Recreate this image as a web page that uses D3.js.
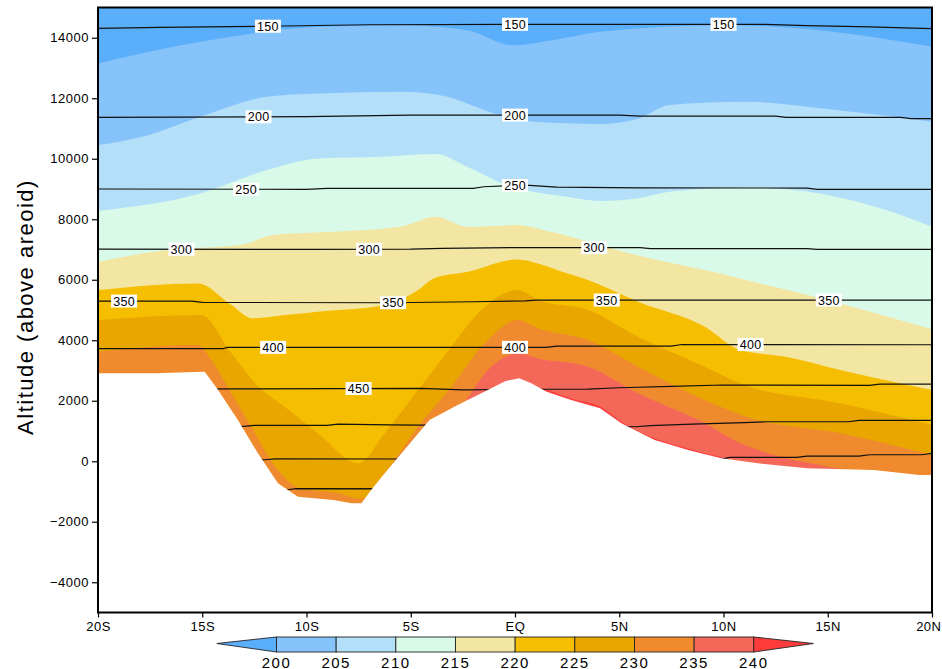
<!DOCTYPE html>
<html>
<head>
<meta charset="utf-8">
<script src="https://cdn.jsdelivr.net/npm/d3@7"></script>
<style>
body { margin: 0; background: #fff; }
svg text { font-family: "Liberation Sans", Arial, sans-serif; }
</style>
</head>
<body>
<div id="chart"></div>
<script>
// temperature classes (K) and their fill colours (below 200 ... above 240)
var tempLevels = [200, 205, 210, 215, 220, 225, 230, 235, 240];
var bandColors = ["#5aaefa", "#87c3fb", "#b4dff9", "#d9fae9", "#f3e6a3",
                  "#f6be00", "#e9a601", "#ef8a2f", "#f4685a", "#ff3c3c"];

// isotherm altitude (m) against latitude
var iso200 = [[-20,13150],[-15.1,13865],[-9.4,14360],[-5.5,14417],[-2.3,14252],[-0.1,13756],[1.8,13921],[4.1,14200],[9.8,14417],[14.6,14252],[20,13700]];
var iso205 = [[-20,10451],[-17.6,10781],[-15.1,11386],[-11.9,12047],[-9.4,12160],[-5.5,12212],[-3.6,12103],[-0.7,11442],[0.9,11221],[4.1,11150],[6.0,11350],[7.4,11773],[11.1,11882],[15.4,11608],[20,11221]];
var iso210 = [[-20,8279],[-15.1,8855],[-11.9,9625],[-9.4,10011],[-6.3,10064],[-3.8,10153],[-2.3,9734],[-0.4,9129],[2.5,8742],[4.1,8600],[6.0,8700],[7.4,8907],[11.1,9053],[14.6,8855],[17.8,8303],[20,7751]];
var iso215 = [[-20,6594],[-16.7,6981],[-13.2,7146],[-11.6,7476],[-9.8,7550],[-5.5,7751],[-3.8,8081],[-2.3,7751],[0.1,7807],[1.7,7585],[5.9,6800],[9.8,6211],[11.6,5900],[14.6,5400],[20,4360]];
var iso220 = [[-20,5659],[-15.2,5880],[-13.6,5163],[-12.6,4723],[-11.05,4832],[-9.45,4941],[-6.25,5163],[-4.65,5659],[-3.9,6045],[-2.25,6263],[0.14,6673],[1.1,6541],[2.5,6211],[3.5,5989],[5.9,5272],[9.1,4446],[10.8,3676],[13.0,3454],[15.6,3015],[20,2354]];
var iso225 = [[-20,4667],[-15.05,4832],[-13.6,3567],[-12.3,2463],[-11.05,1802],[-9.45,923],[-7.5,-69],[-6.25,923],[-4.65,2354],[-3.05,3785],[-1.77,4889],[-0.49,5550],[0.14,5659],[1.1,5328],[3.5,4998],[5.9,4115],[9.1,3124],[10.8,2575],[15.6,1914],[20,1197]];
var iso230 = [[-20,3619],[-15.2,3841],[-14.57,3345],[-13.6,2245],[-12.65,1141],[-11.37,-290],[-10.3,-900],[-8.5,-1050],[-7.4,-1250],[-6.25,-399],[-4.65,1141],[-3.05,2463],[-1.45,3897],[0.14,4667],[1.1,4400],[3.5,4006],[5.9,3124],[9.1,2023],[11.2,1450],[15.6,923],[20,205]];
var iso235 = [[-2.3,2050],[-1.14,3124],[0.14,3567],[1.1,3400],[3.5,3124],[5.9,2245],[9.1,1253],[10.8,592],[11.65,371],[13.0,100],[14.5,-110],[15.9,-300]];
var iso240 = [[1.0,2450],[1.6,2340],[2.7,2075],[4.1,1800],[5.1,1305],[6.7,750],[8.3,420],[9.2,250],[9.9,140]];

// ground surface (m above areoid)
var terrain = [[-20,2906],[-17.2,2906],[-15.0,2958],[-14.88,2958],[-14.24,2354],[-13.29,1362],[-12.33,262],[-11.37,-730],[-10.41,-1173],[-8.71,-1282],[-7.83,-1391],[-7.37,-1391],[-6.87,-928],[-6.25,-399],[-5.4,300],[-4.1,1362],[-2.75,1860],[-1.4,2320],[-0.45,2650],[0.2,2740],[0.78,2575],[1.52,2297],[2.70,2023],[4.08,1749],[5.10,1253],[6.70,701],[8.30,371],[9.89,96],[11.65,-69],[14.0,-234],[17.2,-290],[19.4,-456],[20,-456]];

// pressure levels (Pa): altitude against latitude
var p150 = [[-20,14308],[-17,14340],[-12,14380],[-7,14430],[0,14445],[12,14445],[14,14400],[17,14360],[19.5,14310],[20,14300]];
var p200 = [[-20,11370],[-10,11390],[-5,11442],[5,11442],[6,11409],[12.5,11409],[13,11370],[18.5,11370],[19,11326],[20,11326]];
var p250 = [[-20,9000],[-10,8990],[-9,9020],[-2,9020],[-1.5,9075],[0.5,9129],[2,9060],[6,9040],[14,9031],[14.5,8990],[20,8987]];
var p300 = [[-20,7010],[-10,7003],[-5,7010],[-3.5,7040],[0,7063],[6,7063],[6.5,7030],[14,7030],[14.5,7003],[20,7003]];
var p350 = [[-20,5295],[-15.5,5295],[-15,5250],[-6,5240],[-2,5272],[0.5,5300],[1,5328],[20,5328]];
var p400 = [[-20,3720],[-14,3720],[-13.8,3765],[1.5,3765],[2,3808],[7.5,3808],[8,3860],[20,3852]];
var p450 = [[-20,2350],[-13.8,2390],[-4.5,2410],[-2.5,2360],[1.5,2380],[3.5,2387],[5,2430],[7.5,2475],[10,2520],[17,2510],[17.5,2552],[20,2552]];
var p500 = [[-20,1150],[-13,1150],[-12.5,1187],[-9,1187],[-8.5,1230],[-6,1200],[5.8,1140],[6.5,1175],[8.5,1230],[11,1275],[12,1306],[16,1306],[16.5,1352],[20,1352]];
var p550 = [[-20,50],[-12,50],[-11.5,80],[-5,75],[9.9,73],[10.3,130],[13.5,130],[14,172],[16.5,172],[17,215],[19.5,215],[20,262]];
var p600 = [[-20,-920],[-11,-950],[-10.5,-908],[20,-918]];

// contour labels: [pressure, latitude]
var isobarLabels = [[150,-11.85],[150,0],[150,10],[200,-12.3],[200,0],[250,-12.9],[250,0],
                    [300,-16],[300,-7],[300,3.8],[350,-18.75],[350,-5.85],[350,4.4],[350,15.05],
                    [400,-11.6],[400,0],[400,11.3],[450,-7.5]];

var latTicks = [-20, -15, -10, -5, 0, 5, 10, 15, 20];
var altTicks = [-4000, -2000, 0, 2000, 4000, 6000, 8000, 10000, 12000, 14000];

var isotherms = [iso200, iso205, iso210, iso215, iso220, iso225, iso230, iso235, iso240];
var isobars = [
  { p: 150, pts: p150 }, { p: 200, pts: p200 }, { p: 250, pts: p250 }, { p: 300, pts: p300 },
  { p: 350, pts: p350 }, { p: 400, pts: p400 }, { p: 450, pts: p450 }, { p: 500, pts: p500 },
  { p: 550, pts: p550 }, { p: 600, pts: p600 }
];

var width = 942, height = 669;
var plot = { left: 98, right: 932, top: 7.5, bottom: 612.5 };

var x = d3.scaleLinear().domain([-20, 20]).range([plot.left, plot.right]);
var y = d3.scaleLinear().domain([-5000, 15000]).range([plot.bottom, plot.top]);

var svg = d3.select("#chart").append("svg")
  .attr("width", width)
  .attr("height", height);

svg.append("clipPath").attr("id", "plotClip")
  .append("rect")
  .attr("x", plot.left).attr("y", plot.top)
  .attr("width", plot.right - plot.left).attr("height", plot.bottom - plot.top);

var g = svg.append("g").attr("clip-path", "url(#plotClip)");

// coldest class fills everything, warmer classes painted below each isotherm
g.append("rect")
  .attr("x", plot.left).attr("y", plot.top)
  .attr("width", plot.right - plot.left).attr("height", plot.bottom - plot.top)
  .attr("fill", bandColors[0]);

var isoArea = d3.area()
  .curve(d3.curveMonotoneX)
  .x(function (d) { return x(d[0]); })
  .y0(y(-5000) + 5)
  .y1(function (d) { return y(d[1]); });

isotherms.forEach(function (iso, i) {
  g.append("path").datum(iso)
    .attr("d", isoArea)
    .attr("fill", bandColors[i + 1]);
});

// pressure contours
var isoLine = d3.line()
  .x(function (d) { return x(d[0]); })
  .y(function (d) { return y(d[1]); });

g.selectAll(".isobar")
  .data(isobars)
  .enter().append("path")
  .attr("class", "isobar")
  .attr("d", function (d) { return isoLine(d.pts); })
  .attr("fill", "none")
  .attr("stroke", "#111")
  .attr("stroke-width", 1.2);

// ground (no data below the surface)
g.append("path").datum(terrain)
  .attr("d", d3.area()
    .x(function (d) { return x(d[0]); })
    .y0(y(-5000) + 5)
    .y1(function (d) { return y(d[1]); }))
  .attr("fill", "#fff");

// contour labels
var byP = {};
isobars.forEach(function (b) {
  byP[b.p] = d3.scaleLinear()
    .domain(b.pts.map(function (d) { return d[0]; }))
    .range(b.pts.map(function (d) { return d[1]; }));
});

var lab = g.selectAll(".clab")
  .data(isobarLabels)
  .enter().append("g")
  .attr("class", "clab")
  .attr("transform", function (d) {
    return "translate(" + x(d[1]) + "," + y(byP[d[0]](d[1])) + ")";
  });
lab.append("rect")
  .attr("x", -13).attr("y", -6.5)
  .attr("width", 26).attr("height", 13)
  .attr("fill", "#fff");
lab.append("text")
  .attr("text-anchor", "middle")
  .attr("dy", "0.36em")
  .style("font-size", "12.5px")
  .style("letter-spacing", "0.3px")
  .text(function (d) { return d[0]; });

// axes
var yAxis = d3.axisLeft(y).tickValues(altTicks).tickSize(6).tickPadding(3)
  .tickFormat(d3.format("d"));
var xAxis = d3.axisBottom(x).tickValues(latTicks).tickSize(5).tickPadding(4)
  .tickFormat(function (d) { return d === 0 ? "EQ" : Math.abs(d) + (d < 0 ? "S" : "N"); });

function styleAxis(a) {
  a.select(".domain").remove();
  a.selectAll(".tick line").attr("stroke", "#000").attr("stroke-width", 1.2);
  a.selectAll(".tick text")
    .attr("fill", "#000")
    .style("font-family", "\"Liberation Sans\", Arial, sans-serif")
    .style("font-size", "13px")
    .style("letter-spacing", "0.5px");
}

svg.append("g")
  .attr("transform", "translate(" + plot.left + ",0)")
  .call(yAxis)
  .call(styleAxis);

svg.append("g")
  .attr("transform", "translate(0," + plot.bottom + ")")
  .call(xAxis)
  .call(styleAxis)
  .selectAll(".tick text")
  .filter(function (d) { return d === 20; })
  .attr("text-anchor", "end")
  .attr("x", 941 - plot.right);

// frame
svg.append("rect")
  .attr("x", plot.left).attr("y", plot.top)
  .attr("width", plot.right - plot.left).attr("height", plot.bottom - plot.top)
  .attr("fill", "none")
  .attr("stroke", "#000")
  .attr("stroke-width", 2);

// y title
svg.append("text")
  .attr("transform", "translate(33,307) rotate(-90)")
  .attr("text-anchor", "middle")
  .style("font-size", "22px")
  .style("letter-spacing", "1.5px")
  .text("Altitude (above areoid)");

// colour bar
var cbX = d3.scaleLinear().domain([200, 240]).range([276.5, 753.8]);
var cbTop = 637, cbBot = 652, cbMid = 643.5;
var step = cbX(205) - cbX(200);
var cb = svg.append("g");

cb.selectAll(".cbox")
  .data(d3.pairs(tempLevels))
  .enter().append("rect")
  .attr("x", function (d) { return cbX(d[0]); })
  .attr("y", cbTop)
  .attr("width", function (d) { return cbX(d[1]) - cbX(d[0]); })
  .attr("height", cbBot - cbTop)
  .attr("fill", function (d, i) { return bandColors[i + 1]; })
  .attr("stroke", "#222")
  .attr("stroke-width", 0.9);

cb.append("path")
  .attr("d", "M" + (cbX(200) - step) + "," + cbMid + "L" + cbX(200) + "," + cbTop + "L" + cbX(200) + "," + cbBot + "Z")
  .attr("fill", bandColors[0]).attr("stroke", "#222").attr("stroke-width", 0.9);
cb.append("path")
  .attr("d", "M" + (cbX(240) + step) + "," + cbMid + "L" + cbX(240) + "," + cbTop + "L" + cbX(240) + "," + cbBot + "Z")
  .attr("fill", bandColors[9]).attr("stroke", "#222").attr("stroke-width", 0.9);

cb.selectAll(".cblab")
  .data(tempLevels)
  .enter().append("text")
  .attr("x", function (d) { return cbX(d); })
  .attr("y", 667.5)
  .attr("text-anchor", "middle")
  .style("font-size", "15px")
  .style("letter-spacing", "1.5px")
  .text(function (d) { return d; });
</script>
</body>
</html>
